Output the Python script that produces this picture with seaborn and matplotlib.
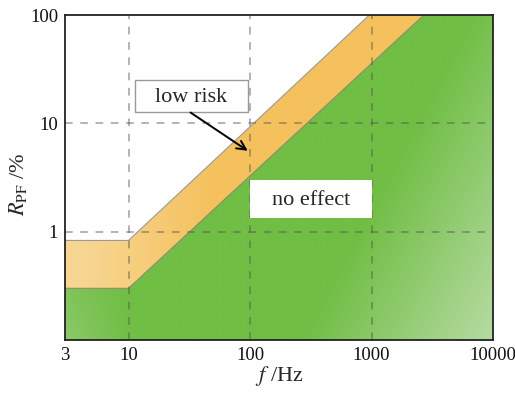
import numpy as np
import seaborn as sns
from matplotlib import pyplot as plt
from matplotlib import rcParams
from matplotlib.patches import Polygon, Rectangle

sns.set_theme(style='white')
rcParams['font.family'] = ['Liberation Serif', 'DejaVu Serif']
rcParams['mathtext.fontset'] = 'stix'

# boundary lines
f_low = [3, 10, 2700]
r_low = [0.3, 0.3, 100]
f_up = [3, 10, 960]
r_up = [0.83, 0.83, 100]

xticks = [3, 10, 100, 1000, 10000]
xticklabels = ['3', '10', '100', '1000', '10000']
yticks = [1, 10, 100]
yticklabels = ['1', '10', '100']
xlim = (3, 10000)
ylim = (0.1, 100)

fig = plt.figure(figsize=(5.15, 3.95), dpi=100)
ax = fig.add_axes([65/515, 55/395, 428/515, 325/395])
ax.set_xscale('log')
ax.set_yscale('log')
ax.set_xlim(xlim)
ax.set_ylim(ylim)

# polygons from the boundary lines and the axis limits
green_pts = list(zip(f_low, r_low)) + [(xlim[1], ylim[1]), (xlim[1], ylim[0]), (xlim[0], ylim[0])]
orange_pts = list(zip(f_up, r_up)) + [(f_low[-1], r_low[-1])] + list(zip(f_low, r_low))[::-1]

def gradient(base, light, tfunc, n=200):
    xx, yy = np.meshgrid(np.linspace(0, 1, n), np.linspace(1, 0, n))
    t = np.clip(tfunc(xx, yy), 0, 1)[..., None]
    base = np.array(base) / 255
    light = np.array(light) / 255
    return base * (1 - t) + light * t

g_img = gradient((112, 190, 68), (182, 219, 162),
                 lambda x, y: np.maximum((x - 0.4*y - 0.55) / 0.45,
                                         0.4*np.clip((0.15 - x)/0.15, 0, 1)*np.clip((0.35 - y)/0.35, 0, 1)))
o_img = gradient((244, 193, 92), (247, 214, 146),
                 lambda x, y: (0.35 - x) / 0.3)

for pts, img in [(green_pts, g_img), (orange_pts, o_img)]:
    poly = Polygon(pts, closed=True, facecolor='none', edgecolor='none',
                   transform=ax.transData)
    ax.add_patch(poly)
    im = ax.imshow(img, extent=[0, 1, 0, 1], transform=ax.transAxes,
                   aspect='auto', zorder=1, interpolation='bilinear')
    im.set_clip_path(poly)

sns.lineplot(x=f_low, y=r_low, color='#8a8a6a', linewidth=0.8, ax=ax, zorder=2)
sns.lineplot(x=f_up, y=r_up, color='#9a9a9a', linewidth=0.8, ax=ax, zorder=2)

ax.set_xlim(xlim)
ax.set_ylim(ylim)

# dashed grid on top of the fills
for xv in [10, 100, 1000]:
    ax.axvline(xv, color='#505050', alpha=0.55, linestyle=(0, (5, 5)), linewidth=1.1, zorder=3)
for yv in [1, 10]:
    ax.axhline(yv, color='#505050', alpha=0.55, linestyle=(0, (5, 5)), linewidth=1.1, zorder=3)

ax.set_xticks(xticks)
ax.set_xticklabels(xticklabels)
ax.set_yticks(yticks)
ax.set_yticklabels(yticklabels)
ax.minorticks_off()
ax.tick_params(length=0, labelsize=13.5, pad=5, colors='#111111')

for sp in ax.spines.values():
    sp.set_color('#222222')
    sp.set_linewidth(1.3)
    sp.set_zorder(5)

ax.set_xlabel(r'$f$ /Hz', fontsize=16, labelpad=0)
ax.set_ylabel(r'$R_{\rm PF}$ /%', fontsize=16)
ax.yaxis.set_label_coords(-0.085, 0.48)

# label boxes
ax.add_patch(Rectangle((11.2, 12.8), 96 - 11.2, 25.2 - 12.8, facecolor='white',
                       edgecolor='#999999', linewidth=1.0, zorder=6))
ax.text(32.8, 17.5, 'low risk', fontsize=16, ha='center', va='center', zorder=7)
ax.annotate('', xy=(100, 5.4), xytext=(31, 13.0),
            arrowprops=dict(arrowstyle='->', color='black', lw=1.4, mutation_scale=16),
            zorder=7)
ax.add_patch(Rectangle((100, 1.35), 900, 3.0 - 1.35, facecolor='white',
                       edgecolor='none', zorder=4))
ax.text(316, 1.95, 'no effect', fontsize=16, ha='center', va='center', zorder=7)

fig.savefig('out.png', dpi=100)
